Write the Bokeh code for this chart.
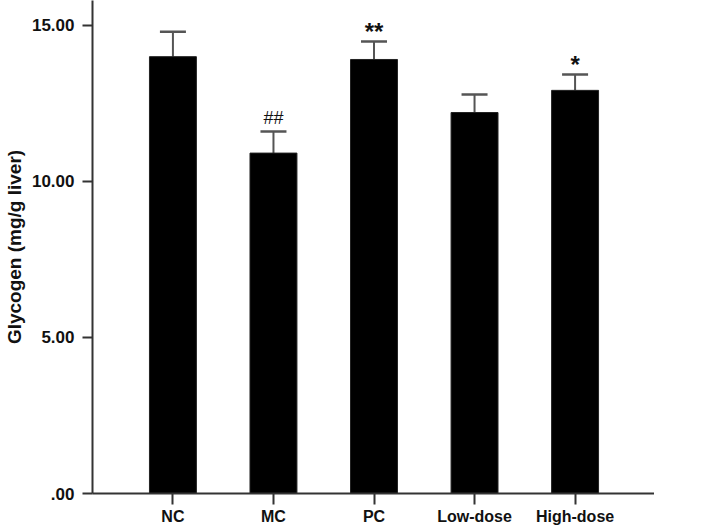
from bokeh.plotting import figure
from bokeh.models import ColumnDataSource, Whisker, TeeHead, FixedTicker, Range1d
from bokeh.core.properties import value
from bokeh.embed import file_html
from bokeh.resources import INLINE

# ---- data ----
groups = ["NC", "MC", "PC", "Low-dose", "High-dose"]
glycogen = [14.00, 10.91, 13.91, 12.21, 12.92]
sem = [0.80, 0.69, 0.58, 0.58, 0.51]
marks = ["", "##", "**", "", "*"]
y_ticks = [0, 5, 10, 15]
y_tick_labels = [".00", "5.00", "10.00", "15.00"]

xs = list(range(len(groups)))
upper = [g + s for g, s in zip(glycogen, sem)]

src = ColumnDataSource(dict(x=xs, top=glycogen, upper=upper, mark=marks))

FONT = "Liberation Sans"

p = figure(
    output_backend="svg", toolbar_location=None,
    frame_width=562, frame_height=493,
    x_range=Range1d(-0.80, 4.79), y_range=Range1d(0, 15.8),
    min_border_left=82, min_border_top=0, min_border_right=0, min_border_bottom=0,
)
p.outline_line_color = None
p.xgrid.visible = False
p.ygrid.visible = False
p.background_fill_color = "white"
p.border_fill_color = "white"

p.vbar(x="x", top="top", bottom=0, width=0.467, source=src,
       fill_color="black", line_color="#222222", line_width=1)

w = Whisker(source=src, base="x", lower="top", upper="upper",
            line_color="#555555", line_width=2,
            upper_head=TeeHead(size=26, line_color="#555555", line_width=2.5),
            lower_head=None)
p.add_layout(w)

# significance marks
star_src = ColumnDataSource(dict(x=[xs[i] for i in (2, 4)],
                                 y=[upper[i] + 0.32 for i in (2, 4)],
                                 t=[marks[i] for i in (2, 4)]))
p.text(x="x", y="y", text="t", source=star_src, text_align="center",
       text_baseline="middle", text_font=value(FONT), text_font_style="bold",
       text_font_size="24px", text_color="#111111")
hash_src = ColumnDataSource(dict(x=[xs[1]], y=[upper[1] + 0.45], t=[marks[1]]))
p.text(x="x", y="y", text="t", source=hash_src, text_align="center",
       text_baseline="middle", text_font=value(FONT),
       text_font_size="18px", text_color="#111111")

# axes
p.xaxis.ticker = FixedTicker(ticks=xs)
p.xaxis.major_label_overrides = {i: g for i, g in zip(xs, groups)}
p.yaxis.ticker = FixedTicker(ticks=y_ticks)
p.yaxis.major_label_overrides = {t: l for t, l in zip(y_ticks, y_tick_labels)}

for ax in (p.xaxis[0], p.yaxis[0]):
    ax.axis_line_color = "#333333"
    ax.axis_line_width = 2
    ax.major_tick_line_color = "#333333"
    ax.major_tick_line_width = 2
    ax.major_tick_in = 0
    ax.minor_tick_line_color = None
    ax.major_label_text_font = FONT
    ax.major_label_text_font_style = "bold"
    ax.major_label_text_font_size = "16px"
    ax.major_label_text_color = "#111111"

p.yaxis.major_label_text_font_size = "17px"
p.xaxis.major_tick_out = 11
p.xaxis.major_label_standoff = 3
p.yaxis.major_tick_out = 10
p.yaxis.major_label_standoff = 8

p.yaxis.axis_label = "Glycogen (mg/g liver)"
p.yaxis.axis_label_text_font = FONT
p.yaxis.axis_label_text_font_style = "bold"
p.yaxis.axis_label_text_font_size = "19px"
p.yaxis.axis_label_text_color = "#111111"
p.yaxis.axis_label_standoff = 4

open("out.html", "w").write(file_html(p, INLINE))
